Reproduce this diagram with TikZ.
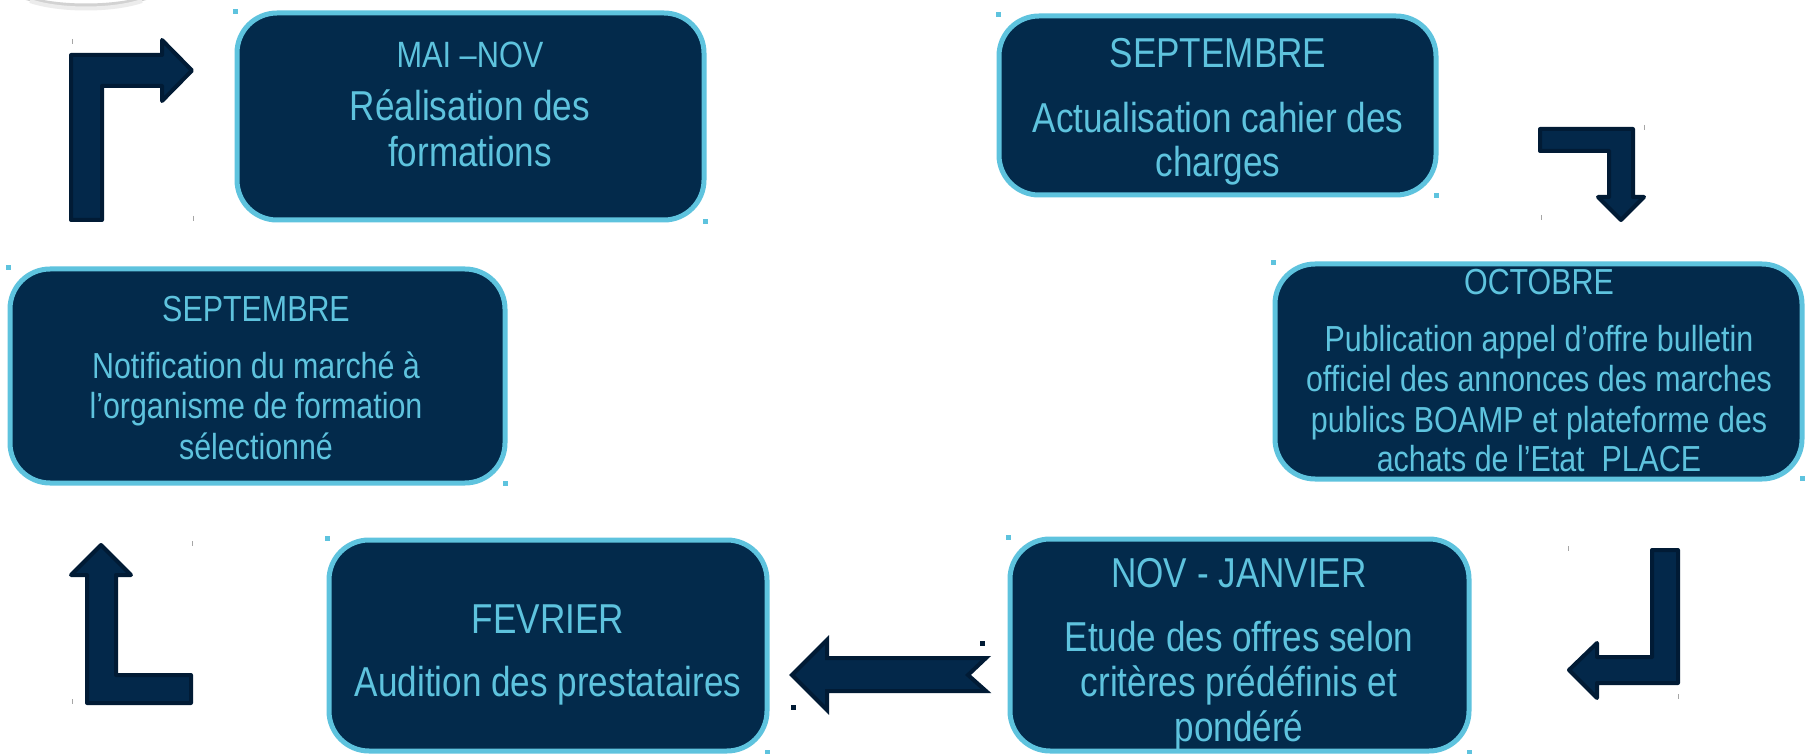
\documentclass[tikz,border=0pt]{standalone}
\usepackage{fontspec}
\setmainfont{Liberation Sans}[FakeStretch=0.84]
\definecolor{navyfill}{HTML}{032A4B}
\definecolor{cyanb}{HTML}{5EC3DE}
\definecolor{arrfill}{HTML}{03284A}
\definecolor{arrline}{HTML}{011B35}
\begin{document}
\begin{tikzpicture}[x=0.5pt,y=-0.5pt,
  box/.style={draw=cyanb, fill=navyfill, line width=2.5pt, rounded corners=20pt, inner sep=0pt},
  txt/.style={text=cyanb, inner sep=0pt, anchor=base},
  big/.style={font=\fontsize{20.9}{24}\selectfont},
  mid/.style={font=\fontsize{18.1}{21}\selectfont},
  hdr/.style={font=\fontsize{18.3}{21}\selectfont},
  bentarrow/.style={fill=arrfill, draw=arrline, line width=2pt, line join=round},
  tick/.style={draw=gray!70, line width=0.5pt}]
\useasboundingbox (0,0) rectangle (1806,754);
\fill[white] (0,0) rectangle (1806,754);
% grey arc at the top left
\draw[gray!35, line width=2pt] (26,-2) .. controls (60,8) and (112,8) .. (146,-2);
\draw[gray!15, line width=2pt] (30,1) .. controls (60,11) and (112,11) .. (142,1);

% boxes
\node[box, minimum width=233.5pt, minimum height=103.5pt] (b1) at (470.5,116.5) {};
\node[box, minimum width=218.5pt, minimum height=89.5pt] (b2) at (1217.5,105.5) {};
\node[box, minimum width=263.5pt, minimum height=107.5pt] (b3) at (1538.5,371.5) {};
\node[box, minimum width=229.5pt, minimum height=106pt] (b4) at (1239.5,645) {};
\node[box, minimum width=219pt, minimum height=105.5pt] (b5) at (548,645.5) {};
\node[box, minimum width=247.5pt, minimum height=107pt] (b6) at (257.5,376) {};

% corner marks
\foreach \x/\y in {233/9, 703/219, 996/12, 1434/193, 1271/260, 1800/476, 1006/535, 1467/750, 325/536, 765/750, 6/265, 503/481}
  \fill[cyanb] (\x,\y) rectangle +(5,5);

% texts box 1
\node[txt, hdr] (b1h) at (470,68) {MAI –NOV};
\node[txt, big] (b1a) at (470,121) {Réalisation des};
\node[txt, big] (b1b) at (470,167) {formations};
% box 2
\node[txt, big] (b2h) at (1218,68) {SEPTEMBRE};
\node[txt, big] (b2a) at (1218,133) {Actualisation cahier des};
\node[txt, big] (b2b) at (1218,177) {charges};
% box 3
\node[txt, mid] (b3h) at (1539,295) {OCTOBRE};
\node[txt, mid] (b3a) at (1539,352) {Publication appel d’offre bulletin};
\node[txt, mid] (b3b) at (1539,392) {officiel des annonces des marches};
\node[txt, mid] (b3c) at (1539,432) {publics BOAMP et plateforme des};
\node[txt, mid] (b3d) at (1539,472) {achats de l’Etat\ \ PLACE};
% box 4
\node[txt, big] (b4h) at (1239,587) {NOV - JANVIER};
\node[txt, big] (b4a) at (1239,651) {Etude des offres selon};
\node[txt, big] (b4b) at (1239,696) {critères prédéfinis et};
\node[txt, big] (b4c) at (1239,741) {pondéré};
% box 5
\node[txt, big] (b5h) at (548,633) {FEVRIER};
\node[txt, big] (b5a) at (548,696) {Audition des prestataires};
% box 6
\node[txt, mid] (b6h) at (256,322) {SEPTEMBRE};
\node[txt, mid] (b6a) at (256,379) {Notification du marché à};
\node[txt, mid] (b6b) at (256,419) {l’organisme de formation};
\node[txt, mid] (b6c) at (256,459) {sélectionné};

% arrows
\draw[bentarrow] (71,220) -- (71,55) -- (162,55) -- (162,40) -- (192,70.5) -- (162,101) -- (162,86) -- (102,86) -- (102,220) -- cycle;
\draw[bentarrow] (1540,129) -- (1633,129) -- (1633,197) -- (1644,197) -- (1621,220) -- (1598,197) -- (1609,197) -- (1609,151) -- (1540,151) -- cycle;
\draw[bentarrow] (1652,550) -- (1678,550) -- (1678,683) -- (1597,683) -- (1597,698) -- (1569,670) -- (1597,643) -- (1597,657) -- (1652,657) -- cycle;
\draw[bentarrow, line join=miter] (792,675) -- (827,640) -- (827,658) -- (986,658) -- (968,675) -- (986,691) -- (827,691) -- (827,710) -- cycle;
\draw[bentarrow] (101,545) -- (131,575) -- (116,575) -- (116,675) -- (191,675) -- (191,703) -- (87,703) -- (87,575) -- (71,575) -- cycle;

% small marks
\foreach \x/\y in {72/39, 193/216, 1644/125, 1541/215, 1568/546, 1678/694, 192/541, 72/699}
  \draw[tick] (\x,\y) -- ++(0,5);
\fill[arrline] (980,641) rectangle +(5,5);
\fill[arrline] (791,705) rectangle +(5,5);
\end{tikzpicture}
\end{document}
